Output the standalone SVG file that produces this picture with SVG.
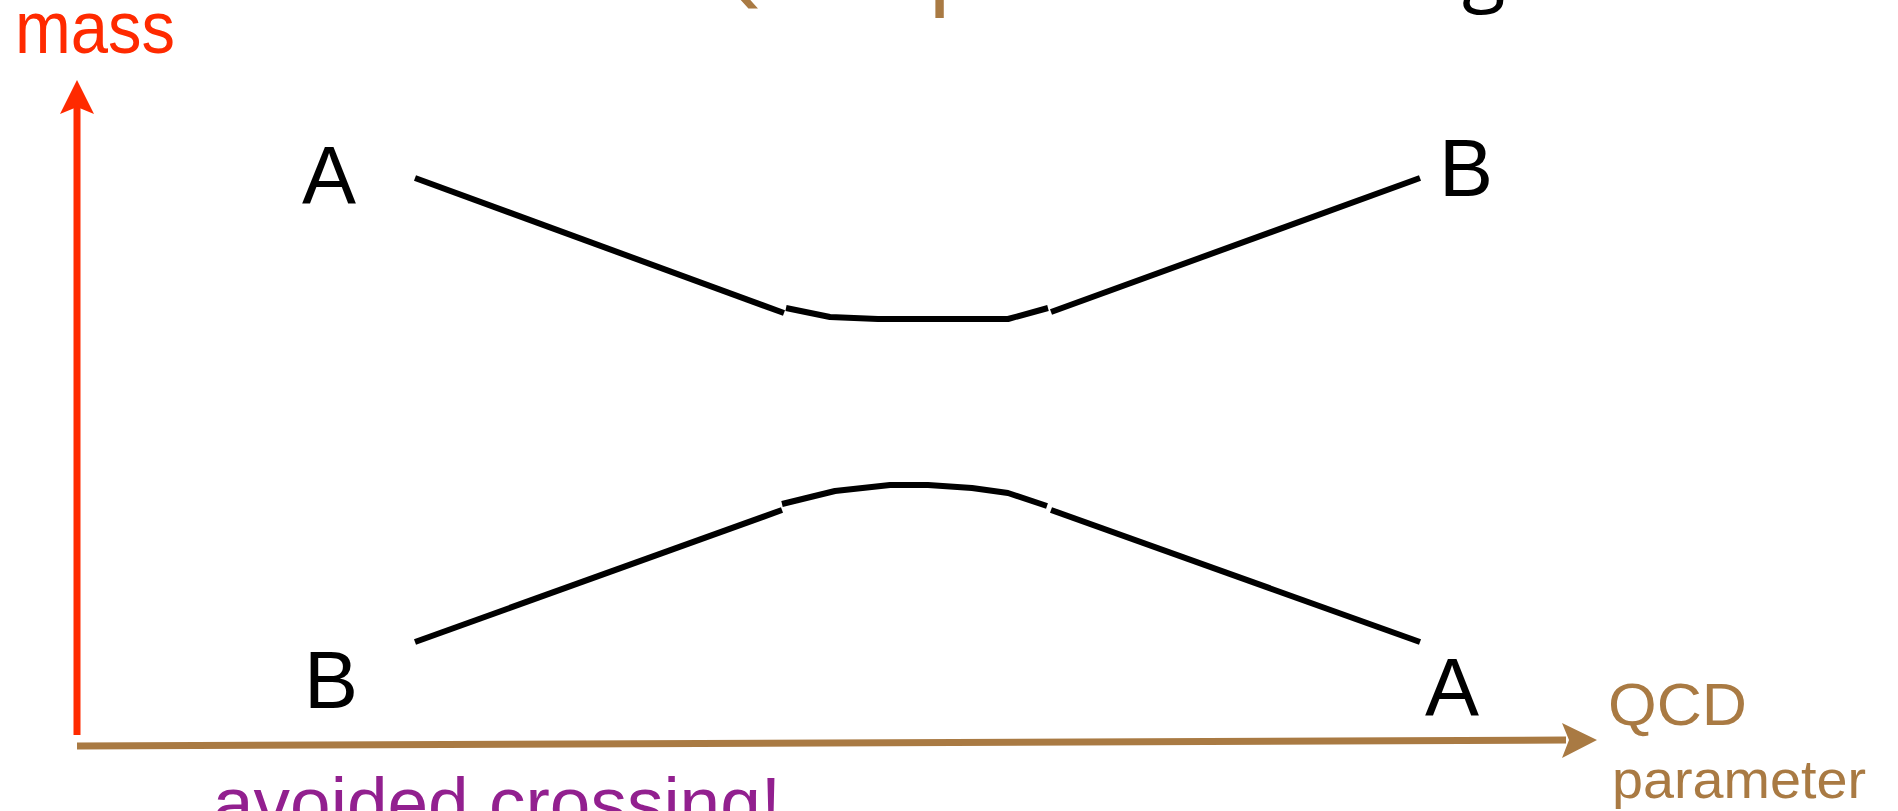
<svg xmlns="http://www.w3.org/2000/svg" width="1898" height="811" viewBox="0 0 1898 811">
<style>
.lbl{font-family:"Liberation Sans",Arial,sans-serif;font-size:81px;fill:#000}
.brown{fill:#a97a43}
.curve{fill:none;stroke:#000;stroke-width:6;stroke-linejoin:round}
</style>
<rect width="1898" height="811" fill="#fff"/>
<g id="top-fragments">
<text x="705" y="-2" font-family="'DejaVu Sans',sans-serif" font-size="80" class="brown">Q</text>
<text x="929" y="-2" font-family="'Liberation Sans',sans-serif" font-size="95" class="brown">p</text>
<text x="1462" y="-4" font-family="'Open Sans',sans-serif" font-size="80" fill="#000">g</text>
</g>
<g id="mass-axis">
<line x1="77" y1="735" x2="77" y2="106" stroke="#ff2a00" stroke-width="7"/>
<polygon points="77,80 94,114 77,107 60,114" fill="#ff2a00"/>
<text x="15" y="53" font-family="'Liberation Sans',Arial,sans-serif" font-size="74" fill="#ff2a00" textLength="160" lengthAdjust="spacingAndGlyphs">mass</text>
</g>
<g id="qcd-axis">
<line x1="77" y1="746" x2="1566" y2="740" stroke="#a97a43" stroke-width="7"/>
<polygon points="1597,740 1562,758 1569,740 1562,723" fill="#a97a43"/>
<text x="1608" y="725" font-family="'Liberation Sans',Arial,sans-serif" font-size="59" class="brown" textLength="139" lengthAdjust="spacingAndGlyphs">QCD</text>
<text x="1612" y="798" font-family="'Liberation Sans',Arial,sans-serif" font-size="54" class="brown" textLength="254" lengthAdjust="spacingAndGlyphs">parameter</text>
</g>
<g id="connectors">
<polyline class="curve" points="415,178 784,313"/>
<polyline class="curve" points="786,308 830,317 878,319 1008,319 1048,308"/>
<polyline class="curve" points="1051,312 1420,178"/>
<polyline class="curve" points="415,642 782,510"/>
<polyline class="curve" points="782,504 835,491 890,485 928,485 972,488 1008,493 1047,506"/>
<polyline class="curve" points="1051,510 1420,642"/>
</g>
<g id="label-A-left"><text class="lbl" x="302" y="203">A</text></g>
<g id="label-B-right"><text class="lbl" x="1439" y="196">B</text></g>
<g id="label-B-left"><text class="lbl" x="304" y="708">B</text></g>
<g id="label-A-right"><text class="lbl" x="1425" y="715">A</text></g>
<g id="caption">
<text x="213" y="828" font-family="'Liberation Sans',Arial,sans-serif" font-size="73" fill="#92208f">avoided crossing!</text>
</g>
</svg>
